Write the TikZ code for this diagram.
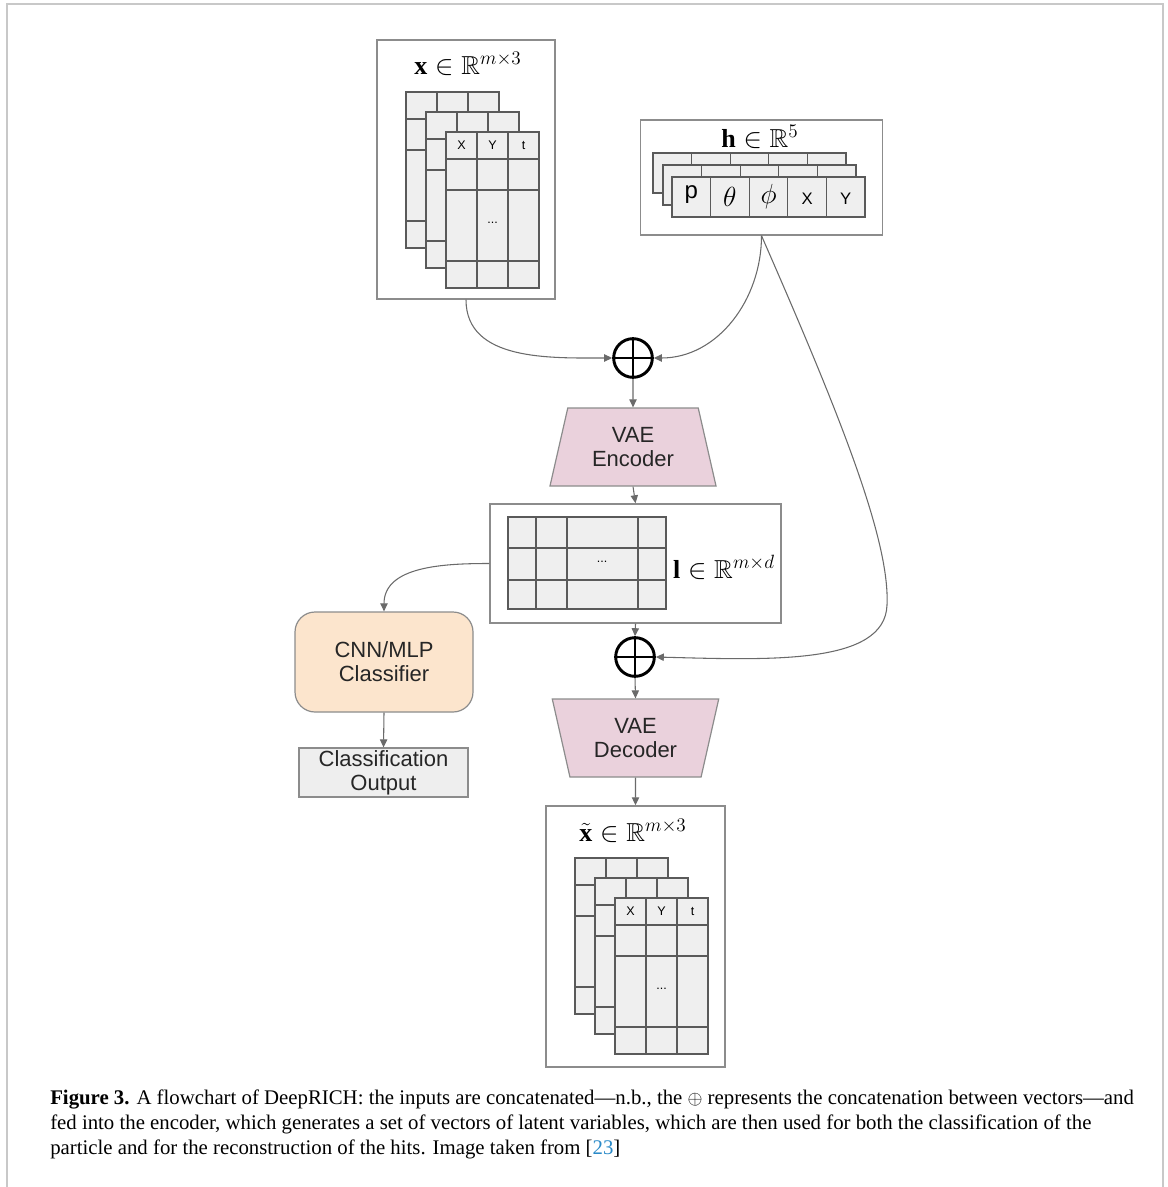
\documentclass[tikz,border=0pt]{standalone}
\usepackage{fontspec}
\setmainfont{Liberation Serif}
\setsansfont{Liberation Sans}
\usepackage{amsmath,amssymb}
\usepackage{xcolor}
\usepackage{tikz}
\usetikzlibrary{arrows.meta,shapes.geometric}

\definecolor{sheetgray}{HTML}{EFEFEF}
\definecolor{gridgray}{HTML}{5A5A5A}
\definecolor{boxgray}{HTML}{8C8C8C}
\definecolor{arrowgray}{HTML}{6A6A6A}
\definecolor{framegray}{HTML}{C8C8C8}
\definecolor{vaepink}{HTML}{EAD1DC}
\definecolor{clspeach}{HTML}{FCE5CD}
\definecolor{outgray}{HTML}{EEEEEE}
\definecolor{linkblue}{HTML}{2A8AC8}

\tikzset{
  box/.style={draw=boxgray, line width=1.1pt, inner sep=0pt},
  sheet/.style={draw=gridgray, fill=sheetgray, line width=0.9pt},
  gridline/.style={draw=gridgray, line width=0.9pt},
  conn/.style={draw=arrowgray, line width=0.8pt, -{Triangle[length=6pt,width=5.5pt]}},
  plus/.style={circle, draw=black, line width=2.2pt, minimum size=29pt, inner sep=0pt},
  vae/.style={trapezium, trapezium stretches=true, trapezium left angle=75.6, trapezium right angle=75.6,
    draw=boxgray, fill=vaepink, line width=0.9pt, minimum width=125pt, minimum height=58.5pt,
    align=center, text=black!85, font=\sffamily\fontsize{16.5}{18}\selectfont},
  mathlabel/.style={inner sep=0pt, font=\fontsize{19.5}{23}\selectfont},
  hitlabel/.style={inner sep=0pt, font=\sffamily\fontsize{9.4}{11}\selectfont},
  hcell/.style={inner sep=0pt, font=\sffamily\fontsize{12.5}{14}\selectfont},
  caption/.style={inner sep=0pt, align=left, font=\fontsize{15.6}{18.75}\selectfont}
}

\begin{document}
\begin{tikzpicture}[x=0.75pt,y=0.75pt,yscale=-1,xscale=1]
\useasboundingbox (0,0) rectangle (1167,1187);

% page frame
\draw[framegray, line width=1.5pt] (7,1187) -- (7,4) -- (1163,4) -- (1163,1187);

% input and reconstructed hits
\node[box, minimum width=133.5pt, minimum height=194.25pt] (xin) at (466,169.5) {};
\node[mathlabel] (xlab) at (468,64) {$\mathbf{x}\in\mathbb{R}^{m\times 3}$};
\node[box, minimum width=134.25pt, minimum height=195.75pt] (xout) at (635.5,936.5) {};
\node[mathlabel] (xtlab) at (633,831) {$\tilde{\mathbf{x}}\in\mathbb{R}^{m\times 3}$};
\foreach \sx/\sy in {406/92,575/858} {
  \begin{scope}[shift={(\sx,\sy)}]
  \foreach \d in {0,20,40} {
    \path[sheet] (\d,\d) rectangle ++(93,156);
    \draw[gridline] (\d+31,\d) -- ++(0,156) (\d+62,\d) -- ++(0,156)
      (\d,\d+27) -- ++(93,0) (\d,\d+58) -- ++(93,0) (\d,\d+129) -- ++(93,0);
  }
  \node[hitlabel] (X\sx) at (55.5,53.5) {X};
  \node[hitlabel] (Y\sx) at (86.5,53.5) {Y};
  \node[hitlabel] (t\sx) at (117.5,53.5) {t};
  \node[hitlabel] (dots\sx) at (86.5,131) {...};
  \end{scope}
}

% track parameters
\node[box, minimum width=181.5pt, minimum height=86.25pt] (hin) at (761.5,177.5) {};
\node[mathlabel, anchor=base] (hlab) at (760,148) {$\mathbf{h}\in\mathbb{R}^{5}$};
\foreach \d/\e in {0/0,10/12,19/24} {
  \path[sheet] (653+\d,153+\e) rectangle ++(193,40);
  \foreach \k in {1,...,4}
    \draw[gridline] (653+\d+38.6*\k,153+\e) -- ++(0,40);
}
\node[hcell, font=\sffamily\fontsize{18}{20}\selectfont] (hp) at (691.3,195) {p};
\node[hcell, font=\fontsize{20}{22}\selectfont] (hth) at (729.9,197) {$\theta$};
\node[hcell, font=\fontsize{20}{22}\selectfont] (hph) at (768.5,197) {$\phi$};
\node[hcell] (hx) at (807.1,199) {X};
\node[hcell] (hy) at (845.7,199) {Y};

% concatenation + encoder
\node[plus] (cat1) at (633,358) {};
\draw[line width=2.2pt] (cat1.north) -- (cat1.south) (cat1.west) -- (cat1.east);
\node[vae] (enc) at (633,447) {VAE\\Encoder};

% latent space
\node[box, minimum width=218.25pt, minimum height=89.25pt] (lat) at (635.5,563.5) {};
\path[sheet] (508,517) rectangle (666,609);
\draw[gridline] (536,517) -- (536,609) (567,517) -- (567,609) (638,517) -- (638,609)
  (508,548) -- (666,548) (508,580) -- (666,580);
\node[hitlabel] (ldots) at (602,562) {...};
\node[mathlabel] (llab) at (724,567) {$\mathbf{l}\in\mathbb{R}^{m\times d}$};

% classifier branch
\node[draw=boxgray, fill=clspeach, line width=0.9pt, rounded corners=15pt, minimum width=133.5pt,
  minimum height=75pt, align=center, text=black!85, font=\sffamily\fontsize{16.5}{18}\selectfont]
  (cls) at (384,662) {CNN/MLP\\Classifier};
\node[draw=boxgray, fill=outgray, line width=0.9pt, minimum width=126.75pt, minimum height=36.75pt,
  inner sep=0pt, align=center, text=black!85, font=\sffamily\fontsize{16.5}{18}\selectfont]
  (clsout) at (383.5,772.5) {Classification\\Output};

% concatenation + decoder
\node[plus] (cat2) at (635,657) {};
\draw[line width=2.2pt] (cat2.north) -- (cat2.south) (cat2.west) -- (cat2.east);
\node[vae, shape border rotate=180] (dec) at (635.5,738) {VAE\\Decoder};

% connectors
\draw[conn] (xin.south) to[out=90,in=180] (cat1.west);
\draw[conn] (hin.south) to[out=90,in=0] (cat1.east);
\draw[conn] (hin.south) .. controls (840,415) and (890,540) .. (887,605)
  .. controls (885,665) and (770,660) .. (cat2.east);
\draw[conn] (cat1.south) -- (enc.north);
\draw[conn] (enc.south) -- (lat.north);
\draw[conn] (lat.west) to[out=180,in=-90] (cls.north);
\draw[conn] (cls.south) -- (clsout.north);
\draw[conn] (lat.south) -- (cat2.north);
\draw[conn] (cat2.south) -- (dec.north);
\draw[conn] (dec.south) -- (xout.north);

% caption
\node[caption, anchor=north west] (cap) at (50,1090) {\textbf{Figure 3.} A flowchart of DeepRICH: the inputs are concatenated---n.b., the $\oplus$ represents the concatenation between vectors---and\\
fed into the encoder, which generates a set of vectors of latent variables, which are then used for both the classification of the\\
particle and for the reconstruction of the hits. Image taken from [\textcolor{linkblue}{23}]};
\end{tikzpicture}
\end{document}
